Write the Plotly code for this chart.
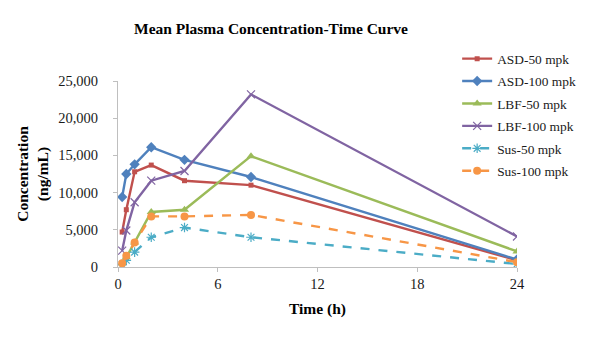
import plotly.graph_objects as go

# Sampling times (h)
time_h = [0.25, 0.5, 1, 2, 4, 8, 24]

# Mean plasma concentrations (ng/mL)
asd_50 = [4700, 7700, 12800, 13700, 11600, 11000, 900]
asd_100 = [9400, 12500, 13800, 16100, 14400, 12100, 1000]
lbf_50 = [500, 1300, 3300, 7400, 7700, 14900, 2100]
lbf_100 = [2200, 4900, 8700, 11600, 12900, 23200, 4100]
sus_50 = [300, 900, 2000, 4000, 5300, 4000, 400]
sus_100 = [500, 1500, 3300, 6800, 6800, 7000, 650]

x_ticks = [0, 6, 12, 18, 24]
y_ticks = [0, 5000, 10000, 15000, 20000, 25000]

serif = "Liberation Serif, Times New Roman, serif"
tick_font = dict(family=serif, size=14.5, color="#1A1A1A")
label_font = dict(family=serif, size=15.5, color="black")

series = [
    ("ASD-50 mpk", asd_50, "#C0504D", "solid", dict(symbol="square", size=5)),
    ("ASD-100 mpk", asd_100, "#4F81BD", "solid", dict(symbol="diamond", size=8)),
    ("LBF-50 mpk", lbf_50, "#9BBB59", "solid", dict(symbol="triangle-up", size=8)),
    ("LBF-100 mpk", lbf_100, "#8064A2", "solid",
     dict(symbol="x-thin-open", size=8, line=dict(color="#B9A9CC", width=1.2))),
    ("Sus-50 mpk", sus_50, "#4BACC6", "dash",
     dict(symbol="asterisk-open", size=8, line=dict(color="#8FD0E0", width=1.2))),
    ("Sus-100 mpk", sus_100, "#F79646", "dash", dict(symbol="circle", size=8)),
]

fig = go.Figure()
for name, vals, color, dash, marker in series:
    fig.add_trace(go.Scatter(
        x=time_h, y=vals, name=name, mode="lines+markers", legendgroup=name,
        line=dict(color=color, width=2.4, dash=dash),
        marker=dict(color=color, **marker),
    ))

fig.update_layout(
    width=600, height=343,
    margin=dict(l=118, r=83, t=81, b=76),
    paper_bgcolor="white", plot_bgcolor="white",
    font=dict(family=serif, size=13, color="#1A1A1A"),
    title=dict(text="<b>Mean Plasma Concentration-Time Curve</b>",
               x=271 / 600, xanchor="center", y=1 - 29 / 343, yanchor="middle",
               font=label_font),
    showlegend=True,
    legend=dict(x=0.85, y=1.202, xanchor="left", yanchor="top",
                font=dict(family=serif, size=13.4, color="#1A1A1A"),
                itemwidth=30, tracegroupgap=2, bgcolor="rgba(0,0,0,0)"),
)

fig.update_xaxes(
    range=[0, 24], tickvals=x_ticks, ticktext=[str(v) for v in x_ticks],
    tickfont=tick_font,
    showgrid=False, zeroline=False, showline=True, linecolor="#BFBFBF", linewidth=1,
    ticks="outside", tickcolor="#BFBFBF", ticklen=4,
    title=dict(text="<b>Time (h)</b>", font=label_font, standoff=11),
)
fig.update_yaxes(
    range=[0, 25000], tickvals=y_ticks, ticktext=[f"{v:,}" for v in y_ticks],
    tickfont=tick_font, ticklabelstandoff=12,
    showgrid=False, zeroline=False, showline=True, linecolor="#BFBFBF", linewidth=1,
    ticks="outside", tickcolor="#BFBFBF", ticklen=4,
    title=dict(text="<b>Concentration<br>(ng/mL)</b>", font=label_font, standoff=5),
)

fig.write_html("out.html")
